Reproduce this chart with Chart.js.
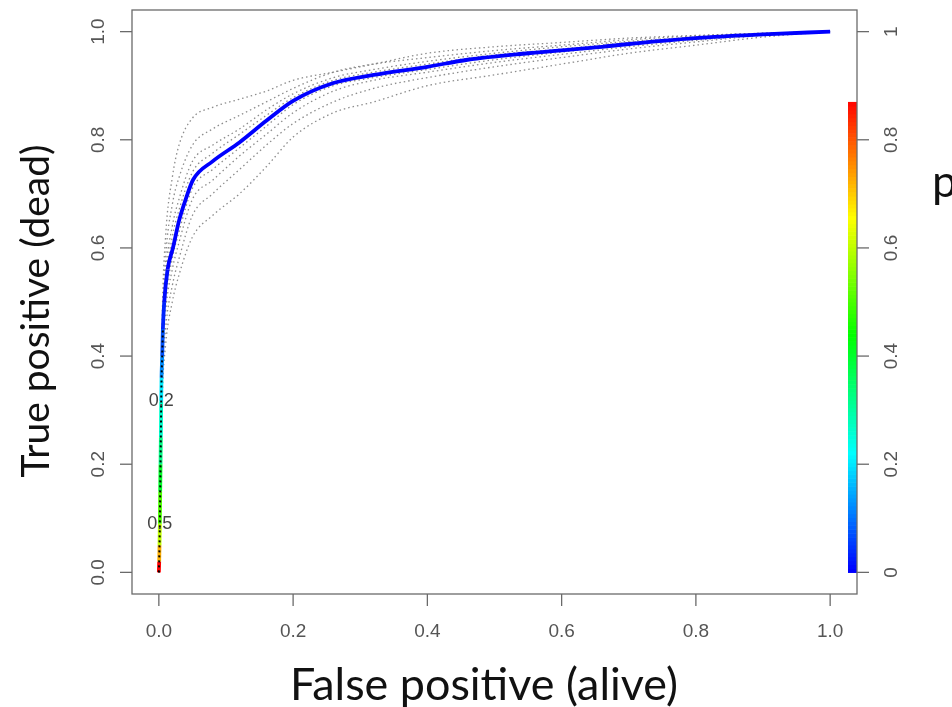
<!DOCTYPE html>
<html>
<head>
<meta charset="utf-8">
<script src="https://cdn.jsdelivr.net/npm/chart.js@4.4.1/dist/chart.umd.min.js"></script>
<style>
  html, body { margin: 0; background: #fff; }
  #wrap { width: 952px; height: 707px; }
</style>
</head>
<body>
<div id="wrap"><canvas id="roc"></canvas></div>
<script>
// averaged ROC curve with its cutoff per point
const meanFpr = [0, 0.0005, 0.001, 0.0015, 0.002, 0.0025, 0.003, 0.0035, 0.004, 0.005, 0.006, 0.008, 0.013, 0.021, 0.03, 0.04, 0.051, 0.08, 0.12, 0.16, 0.2, 0.26, 0.32, 0.4, 0.46, 0.55, 0.66, 0.74, 0.81, 0.9, 1.0];
const meanTpr = [0, 0.02, 0.05, 0.09, 0.15, 0.2, 0.25, 0.316, 0.36, 0.4, 0.45, 0.5, 0.56, 0.6, 0.65, 0.69, 0.726, 0.76, 0.795, 0.835, 0.872, 0.905, 0.92, 0.935, 0.948, 0.96, 0.972, 0.982, 0.989, 0.995, 1.0];
const meanCut = [0.87, 0.72, 0.6, 0.5, 0.4, 0.32, 0.26, 0.2, 0.12, 0.07, 0.03, 0.01, 0, 0, 0, 0, 0, 0, 0, 0, 0, 0, 0, 0, 0, 0, 0, 0, 0, 0, 0];
const cutoffMax = 0.87;

// single cross-validation runs (gray dotted)
const foldFpr = [0, 0.005, 0.01, 0.02, 0.03, 0.05, 0.08, 0.12, 0.16, 0.2, 0.26, 0.32, 0.4, 0.5, 0.6, 0.7, 0.8, 0.9, 1.0];
const fold1 = [0, 0.47, 0.62, 0.73, 0.79, 0.84, 0.86, 0.875, 0.89, 0.91, 0.925, 0.94, 0.96, 0.972, 0.98, 0.988, 0.993, 0.997, 1];
const fold2 = [0, 0.44, 0.58, 0.68, 0.73, 0.79, 0.82, 0.845, 0.87, 0.895, 0.925, 0.94, 0.952, 0.965, 0.975, 0.985, 0.992, 0.997, 1];
const fold3 = [0, 0.42, 0.55, 0.64, 0.69, 0.76, 0.79, 0.82, 0.855, 0.885, 0.915, 0.93, 0.945, 0.96, 0.972, 0.982, 0.99, 0.996, 1];
const fold4 = [0, 0.41, 0.53, 0.62, 0.67, 0.74, 0.775, 0.81, 0.845, 0.878, 0.91, 0.925, 0.94, 0.957, 0.968, 0.98, 0.989, 0.996, 1];
const fold5 = [0, 0.39, 0.50, 0.58, 0.63, 0.71, 0.745, 0.785, 0.825, 0.865, 0.9, 0.915, 0.93, 0.948, 0.962, 0.976, 0.986, 0.995, 1];
const fold6 = [0, 0.37, 0.48, 0.56, 0.61, 0.69, 0.725, 0.77, 0.81, 0.85, 0.89, 0.91, 0.925, 0.943, 0.958, 0.972, 0.984, 0.994, 1];
const fold7 = [0, 0.35, 0.45, 0.53, 0.58, 0.66, 0.70, 0.745, 0.79, 0.83, 0.87, 0.895, 0.915, 0.935, 0.952, 0.968, 0.981, 0.993, 1];
const fold8 = [0, 0.32, 0.42, 0.50, 0.55, 0.62, 0.66, 0.70, 0.75, 0.805, 0.85, 0.87, 0.9, 0.92, 0.94, 0.96, 0.975, 0.99, 1];
const folds = [fold1, fold2, fold3, fold4, fold5, fold6, fold7, fold8];

// cutoff labels printed on the curve: [label, index into mean arrays]
const cutLabels = [["0.2", 7], ["0.5", 3]];

const xTicks = [0, 0.2, 0.4, 0.6, 0.8, 1.0];
const xTickLabels = ["0.0", "0.2", "0.4", "0.6", "0.8", "1.0"];
const yTicks = [0, 0.2, 0.4, 0.6, 0.8, 1.0];
const yTickLabels = ["0.0", "0.2", "0.4", "0.6", "0.8", "1.0"];
const cutTicks = [0, 0.2, 0.4, 0.6, 0.8, 1];
const cutTickLabels = ["0", "0.2", "0.4", "0.6", "0.8", "1"];

function cutColor(c) {
  const h = 240 * (1 - Math.min(c, cutoffMax) / cutoffMax);
  return `hsl(${h}, 100%, 50%)`;
}

const pts = (xs, ys) => xs.map((x, i) => ({ x: x, y: ys[i] }));

const datasets = [];
// black dotted on the coloured part
const nDot = 11;
datasets.push({
  data: pts(meanFpr.slice(0, nDot), meanTpr.slice(0, nDot)),
  borderColor: "#000",
  borderWidth: 2,
  borderDash: [2, 3],
  pointRadius: 0,
  order: 0
});
datasets.push({
  data: pts(meanFpr, meanTpr),
  borderWidth: 3.8,
  pointRadius: 0,
  borderColor: "#0000ff",
  cubicInterpolationMode: "monotone",
  segment: { borderColor: c => cutColor(meanCut[c.p0DataIndex]) },
  order: 1
});
folds.forEach(f => {
  datasets.push({
    data: pts(foldFpr, f),
    borderColor: "rgba(120,120,120,0.85)",
    borderWidth: 1.3,
    borderDash: [1.5, 3],
    pointRadius: 0,
    cubicInterpolationMode: "monotone",
    order: 2
  });
});

// big title text, sized to the width it has in the picture
function fitText(ctx, text, width) {
  ctx.font = '40px Lato, sans-serif';
  const s = 40 * width / ctx.measureText(text).width;
  ctx.font = `${s.toFixed(1)}px Lato, sans-serif`;
}

const rAxes = {
  id: "rAxes",
  afterDraw(chart) {
    const ctx = chart.ctx, ca = chart.chartArea;
    const xs = chart.scales.x, ys = chart.scales.y;
    ctx.save();

    // colour key for cutoffs
    const steps = 120;
    for (let i = 0; i < steps; i++) {
      const c0 = cutoffMax * i / steps, c1 = cutoffMax * (i + 1) / steps;
      const p0 = ys.getPixelForValue(c0), p1 = ys.getPixelForValue(c1);
      ctx.fillStyle = cutColor(c0);
      ctx.fillRect(ca.right - 9, p1, 9, p0 - p1 + 0.6);
    }

    ctx.strokeStyle = "#6a6a6a";
    ctx.lineWidth = 1.3;
    ctx.strokeRect(ca.left, ca.top, ca.right - ca.left, ca.bottom - ca.top);

    ctx.fillStyle = "#555";
    ctx.font = '19px "Liberation Sans", Arial, sans-serif';
    ctx.textAlign = "center";
    ctx.textBaseline = "middle";

    xTicks.forEach((v, i) => {
      const px = xs.getPixelForValue(v);
      ctx.beginPath(); ctx.moveTo(px, ca.bottom); ctx.lineTo(px, ca.bottom + 12); ctx.stroke();
      ctx.fillText(xTickLabels[i], px, 632);
    });
    yTicks.forEach((v, i) => {
      const py = ys.getPixelForValue(v);
      ctx.beginPath(); ctx.moveTo(ca.left - 12, py); ctx.lineTo(ca.left, py); ctx.stroke();
      ctx.save(); ctx.translate(99, py); ctx.rotate(-Math.PI / 2);
      ctx.fillText(yTickLabels[i], 0, 0); ctx.restore();
    });
    cutTicks.forEach((v, i) => {
      const py = ys.getPixelForValue(v);
      ctx.beginPath(); ctx.moveTo(ca.right, py); ctx.lineTo(ca.right + 12, py); ctx.stroke();
      ctx.save(); ctx.translate(892, py); ctx.rotate(-Math.PI / 2);
      ctx.fillText(cutTickLabels[i], 0, 0); ctx.restore();
    });

    // cutoff values on the curve
    ctx.fillStyle = "#444";
    ctx.font = '18px "Liberation Sans", Arial, sans-serif';
    cutLabels.forEach(([t, k]) => {
      ctx.fillText(t, xs.getPixelForValue(meanFpr[k]), ys.getPixelForValue(meanTpr[k]));
    });

    // titles
    ctx.fillStyle = "#111";
    fitText(ctx, "False positive (alive)", 388);
    ctx.fillText("False positive (alive)", 484, 686);
    ctx.textAlign = "left";
    ctx.fillText("p", 932, 183);
    ctx.textAlign = "center";
    ctx.save(); ctx.translate(36, 311); ctx.rotate(-Math.PI / 2);
    fitText(ctx, "True positive (dead)", 333);
    ctx.fillText("True positive (dead)", 0, 0); ctx.restore();
    ctx.restore();
  }
};

new Chart(document.getElementById("roc"), {
  type: "line",
  data: { datasets: datasets },
  options: {
    responsive: true,
    maintainAspectRatio: false,
    animation: false,
    layout: { padding: { left: 132, right: 95, top: 10, bottom: 113 } },
    scales: {
      x: { type: "linear", min: -0.04, max: 1.04, display: false },
      y: { type: "linear", min: -0.04, max: 1.04, display: false }
    },
    plugins: { legend: { display: false }, tooltip: { enabled: false } }
  },
  plugins: [rAxes]
});
</script>
</body>
</html>
